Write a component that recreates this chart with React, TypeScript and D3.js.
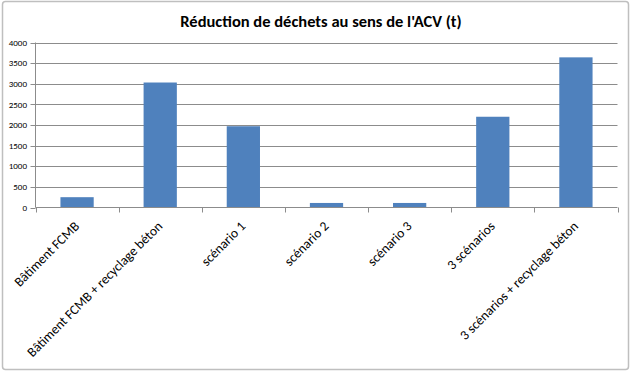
import React from "react";
import * as d3 from "d3";

const categories = [
  "Bâtiment FCMB",
  "Bâtiment FCMB + recyclage béton",
  "scénario 1",
  "scénario 2",
  "scénario 3",
  "3 scénarios",
  "3 scénarios + recyclage béton",
];
const values = [250, 3030, 1970, 110, 110, 2200, 3640];
const yTicks = [0, 500, 1000, 1500, 2000, 2500, 3000, 3500, 4000];
const title = "Réduction de déchets au sens de l'ACV (t)";

const W = 631;
const H = 373;
const left = 35.5;
const right = 617.5;
const top = 42.5;
const bottom = 207.5;
const font = "Calibri, Carlito, Lato, 'Open Sans', sans-serif";

export default function App() {
  const x = d3
    .scaleBand<string>()
    .domain(categories)
    .range([left, right])
    .paddingInner(0.6)
    .paddingOuter(0.3);
  const xOuter = d3.scaleBand<string>().domain(categories).range([left, right]);
  const y = d3.scaleLinear().domain([0, 4000]).range([bottom, top]);

  return (
    <svg
      width={W}
      height={H}
      style={{ position: "absolute", left: 0, top: 0, display: "block" }}
    >
      <rect x={0} y={0} width={W} height={H} fill="#fff" />
      <rect
        x={2.5}
        y={1.5}
        width={626}
        height={368}
        rx={3}
        fill="#fff"
        stroke="#bfbfbf"
        strokeWidth={1.5}
      />
      <text
        x={321}
        y={27}
        textAnchor="middle"
        fontFamily={font}
        fontWeight="bold"
        fontSize={16.5}
        fill="#000"
      >
        {title}
      </text>
      {yTicks.map((t) => (
        <g key={t}>
          {t > 0 && (
            <line
              x1={left}
              x2={right}
              y1={Math.round(y(t)) + 0.5}
              y2={Math.round(y(t)) + 0.5}
              stroke="#8c8c8c"
              strokeWidth={1}
            />
          )}
          <line
            x1={left - 5}
            x2={left}
            y1={Math.round(y(t)) + 0.5}
            y2={Math.round(y(t)) + 0.5}
            stroke="#8c8c8c"
          />
          <text
            x={27}
            y={y(t)}
            dy="0.35em"
            textAnchor="end"
            fontFamily={font}
            fontSize={9}
            fill="#000"
          >
            {t}
          </text>
        </g>
      ))}
      {categories.map((c, i) => (
        <rect
          key={c}
          x={x(c)}
          y={y(values[i])}
          width={x.bandwidth()}
          height={y(0) - y(values[i])}
          fill="#4f81bd"
        />
      ))}
      <line x1={left} x2={left} y1={top} y2={bottom} stroke="#8c8c8c" />
      <line x1={left} x2={right} y1={bottom} y2={bottom} stroke="#8c8c8c" />
      {[...categories.map((c) => xOuter(c) as number), right].map((px, i) => (
        <line
          key={i}
          x1={Math.round(px) + 0.5}
          x2={Math.round(px) + 0.5}
          y1={bottom}
          y2={bottom + 5}
          stroke="#8c8c8c"
        />
      ))}
      {categories.map((c) => {
        const cx = (xOuter(c) as number) + xOuter.bandwidth() / 2 + 3;
        const cy = 227;
        return (
          <text
            key={c}
            transform={`translate(${cx},${cy}) rotate(-45)`}
            textAnchor="end"
            fontFamily={font}
            fontSize={13.5}
            fill="#000"
          >
            {c}
          </text>
        );
      })}
    </svg>
  );
}
